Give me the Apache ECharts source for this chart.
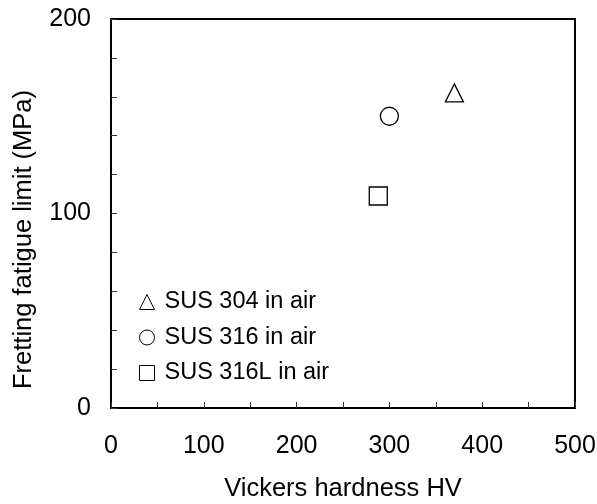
<!DOCTYPE html>
<html>
<head>
<meta charset="utf-8">
<script src="https://cdn.jsdelivr.net/npm/echarts@6/dist/echarts.min.js"></script>
<style>
  html, body { margin: 0; padding: 0; background: #fff; }
  #main { width: 597px; height: 504px; }
</style>
</head>
<body>
<div id="main"></div>
<script>
// data
var seriesNames = ['SUS 304 in air', 'SUS 316 in air', 'SUS 316L in air'];
var symbols = ['triangle', 'circle', 'rect'];
var hardness = [370, 300, 288];
var fatigueLimit = [162, 150, 109];

var font = 'Arial, "Liberation Sans", sans-serif';

var myChart = echarts.init(document.getElementById('main'));

var series = seriesNames.map(function (name, i) {
    return {
        name: name,
        type: 'scatter',
        symbol: symbols[i],
        symbolSize: 18,
        itemStyle: { color: '#fff', borderColor: '#000', borderWidth: 1.3, opacity: 1 },
        data: [[hardness[i], fatigueLimit[i]]]
    };
});

myChart.setOption({
    animation: false,
    textStyle: { fontFamily: font },
    grid: {
        left: 111, right: 22, top: 19, bottom: 96,
        containLabel: false, outerBoundsMode: 'none',
        show: true, borderColor: '#000', borderWidth: 2, backgroundColor: 'transparent'
    },
    legend: {
        orient: 'vertical',
        left: 134, top: 285,
        itemWidth: 15, itemHeight: 15, itemGap: 11.5,
        data: seriesNames,
        itemStyle: { borderWidth: 1 },
        textStyle: { fontSize: 23.5, color: '#000', fontFamily: font, padding: [0, 0, 0, 5] }
    },
    xAxis: {
        type: 'value',
        min: 0, max: 500, interval: 50,
        name: 'Vickers hardness HV',
        nameLocation: 'middle',
        nameGap: 68,
        nameTextStyle: { fontSize: 25.5, color: '#000' },
        axisLine: { lineStyle: { color: '#000', width: 2 } },
        axisTick: { inside: true, length: 6, lineStyle: { color: '#333', width: 1 } },
        axisLabel: {
            fontSize: 25, color: '#000', margin: 26,
            formatter: function (v) { return v % 100 === 0 ? String(v) : ''; }
        },
        splitLine: { show: false }
    },
    yAxis: {
        type: 'value',
        min: 0, max: 200, interval: 20,
        name: 'Fretting fatigue limit (MPa)',
        nameLocation: 'middle',
        nameGap: 74,
        nameTextStyle: { fontSize: 25.5, color: '#000', padding: [0, 52, 0, 0] },
        axisLine: { lineStyle: { color: '#000', width: 2 } },
        axisTick: { inside: true, length: 6, lineStyle: { color: '#333', width: 1 } },
        axisLabel: {
            fontSize: 25, color: '#000', margin: 20,
            formatter: function (v) { return v % 100 === 0 ? String(v) : ''; }
        },
        splitLine: { show: false }
    },
    series: series
});
</script>
</body>
</html>
